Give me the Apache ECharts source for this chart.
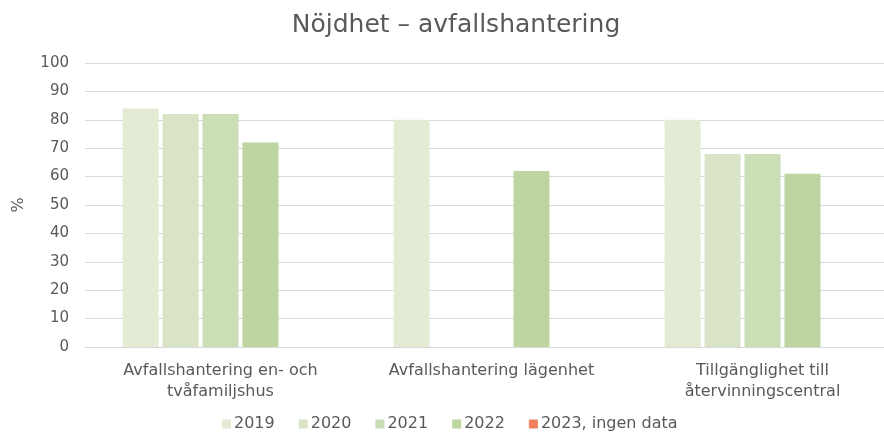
<!DOCTYPE html>
<html>
<head>
<meta charset="utf-8">
<script src="https://cdn.jsdelivr.net/npm/echarts@6/dist/echarts.min.js"></script>
<style>
  html, body { margin: 0; padding: 0; background: #fff; }
  #chart { width: 884px; height: 435px; }
</style>
</head>
<body>
<div id="chart"></div>
<script>
// kategorier och värden (%)
const categories = [
  "Avfallshantering en- och\ntvåfamiljshus",
  "Avfallshantering lägenhet",
  "Tillgänglighet till\nåtervinningscentral"
];
const years = ["2019", "2020", "2021", "2022", "2023, ingen data"];
const v2019 = [84, 80, 80];
const v2020 = [82, null, 68];
const v2021 = [82, null, 68];
const v2022 = [72, 62, 61];
const v2023 = [null, null, null];
const colors = ["#e3ebd5", "#d8e4c5", "#ccdeb5", "#bed5a2", "#f0805e"];

const textColor = "#595959";
const font = "DejaVu Sans";

const seriesData = [v2019, v2020, v2021, v2022, v2023];

const chart = echarts.init(document.getElementById("chart"));
chart.setOption({
  animation: false,
  title: {
    text: "Nöjdhet – avfallshantering",
    left: 451,
    textAlign: "center",
    top: 8,
    textStyle: { color: textColor, fontFamily: font, fontWeight: "normal", fontSize: 25 }
  },
  legend: {
    top: 416,
    left: 222,
    padding: 0,
    itemWidth: 9,
    itemHeight: 9,
    itemGap: 24,
    icon: "rect",
    textStyle: { color: textColor, fontFamily: font, fontSize: 16, padding: [0, 0, 0, -2] },
    data: years
  },
  grid: {
    left: 85,
    width: 813,
    top: 63,
    bottom: 88,
    outerBoundsMode: "none"
  },
  xAxis: {
    type: "category",
    data: categories,
    axisTick: { show: false },
    axisLine: { lineStyle: { color: "#d9d9d9" } },
    axisLabel: {
      color: textColor,
      fontFamily: font,
      fontSize: 16,
      lineHeight: 21,
      margin: 13,
      interval: 0
    }
  },
  yAxis: {
    type: "value",
    min: 0,
    max: 100,
    interval: 10,
    name: "%",
    nameLocation: "middle",
    nameGap: 58,
    nameRotate: 90,
    nameTextStyle: { color: textColor, fontFamily: font, fontSize: 16 },
    axisLine: { show: false },
    axisTick: { show: false },
    splitLine: { lineStyle: { color: "#d9d9d9" } },
    axisLabel: { color: textColor, fontFamily: font, fontSize: 15, margin: 16 }
  },
  series: years.map((name, i) => ({
    name: name,
    type: "bar",
    data: seriesData[i],
    barWidth: 36,
    barGap: "11%",
    itemStyle: { color: colors[i] }
  }))
});
</script>
</body>
</html>
